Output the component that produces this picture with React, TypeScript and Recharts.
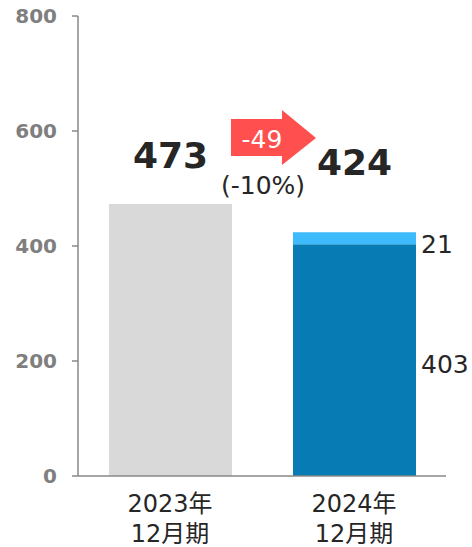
import { BarChart, Bar, XAxis, YAxis, LabelList } from 'recharts';

const categories = ['2023年\n12月期', '2024年\n12月期'];
const prevValues = [473, 0];
const baseValues = [0, 403];
const addedValues = [0, 21];
const yTicks = [0, 200, 400, 600, 800];

const FONT = "'DejaVu Sans', 'Noto Sans CJK JP', sans-serif";
const DARK = '#262626';

const totals = categories.map((_, i) => prevValues[i] + baseValues[i] + addedValues[i]);
const diff = totals[1] - totals[0];
const diffPct = Math.round((diff / totals[0]) * 100);

const data = categories.map((name, i) => ({
    name,
    prev: prevValues[i],
    base: baseValues[i],
    added: addedValues[i],
    total: totals[i],
}));

// big total above the 2023 bar, plus the red change arrow heading right
const PrevLabel = (props: any) => {
    const { x, y, width, height, value } = props;
    if (!value || !height) return null;
    const cx = x + width / 2;
    const x0 = x + width - 1;
    const midY = y - 66;
    const arrow = `M${x0},${midY - 19} L${x0 + 51},${midY - 19} L${x0 + 51},${midY - 28} L${x0 + 85},${midY} L${x0 + 51},${midY + 27} L${x0 + 51},${midY + 18} L${x0},${midY + 18} Z`;
    return (
        <g>
            <text x={cx} y={y - 36} textAnchor="middle" fontSize={36} fontWeight="bold" fill={DARK} fontFamily={FONT}>
                {value}
            </text>
            <path d={arrow} fill="#FF4F4F" />
            <text x={x0 + 31} y={midY + 10} textAnchor="middle" fontSize={25} fill="#fff" fontFamily={FONT}>
                {diff}
            </text>
            <text x={x0 + 32} y={y - 10} textAnchor="middle" fontSize={25} fill={DARK} fontFamily={FONT}>
                ({diffPct}%)
            </text>
        </g>
    );
};

const TotalLabel = (props: any) => {
    const { x, y, width, height, value } = props;
    if (!value || !height) return null;
    return (
        <text x={x + width / 2} y={y - 57} textAnchor="middle" fontSize={36} fontWeight="bold" fill={DARK} fontFamily={FONT}>
            {value}
        </text>
    );
};

const SideLabel = (props: any) => {
    const { x, y, width, height, value, dyExtra } = props;
    if (!value || !height) return null;
    return (
        <text x={x + width + 5} y={y + height / 2 + dyExtra} fontSize={25} fill={DARK} fontFamily={FONT}>
            {value}
        </text>
    );
};

const CategoryTick = (props: any) => {
    const { x, y, payload } = props;
    const lines = String(payload.value).split('\n');
    return (
        <text x={x} y={y} textAnchor="middle" fontSize={24} fill={DARK} fontFamily={FONT}>
            {lines.map((l, i) => (
                <tspan key={i} x={x} dy={i === 0 ? 28 : 30}>
                    {l}
                </tspan>
            ))}
        </text>
    );
};

export default function App() {
    return (
        <div style={{ position: 'absolute', left: 0, top: 0, background: '#fff' }}>
            <BarChart
                width={472}
                height={547}
                data={data}
                margin={{ top: 16, right: 26, bottom: 0, left: 0 }}
                style={{ fontFamily: FONT }}
            >
                <XAxis
                    dataKey="name"
                    height={71}
                    tickLine={false}
                    axisLine={{ stroke: '#898989', strokeWidth: 1.5 }}
                    tick={<CategoryTick />}
                    interval={0}
                />
                <YAxis
                    width={78}
                    domain={[0, 800]}
                    ticks={yTicks}
                    tickSize={6}
                    tickMargin={15}
                    axisLine={{ stroke: '#898989', strokeWidth: 1.5 }}
                    tickLine={{ stroke: '#898989', strokeWidth: 1.5 }}
                    tick={{ fill: '#7f7f7f', fontSize: 20, fontWeight: 'bold', fontFamily: FONT }}
                />
                <Bar dataKey="prev" stackId="a" fill="#D9D9D9" barSize={123} isAnimationActive={false}>
                    <LabelList dataKey="prev" content={<PrevLabel />} />
                </Bar>
                <Bar dataKey="base" stackId="a" fill="#077CB4" barSize={123} isAnimationActive={false}>
                    <LabelList dataKey="base" content={<SideLabel dyExtra={13} />} />
                </Bar>
                <Bar dataKey="added" stackId="a" fill="#3DBBFD" barSize={123} isAnimationActive={false}>
                    <LabelList dataKey="added" content={<SideLabel dyExtra={15} />} />
                    <LabelList dataKey="total" content={<TotalLabel />} />
                </Bar>
            </BarChart>
        </div>
    );
}
